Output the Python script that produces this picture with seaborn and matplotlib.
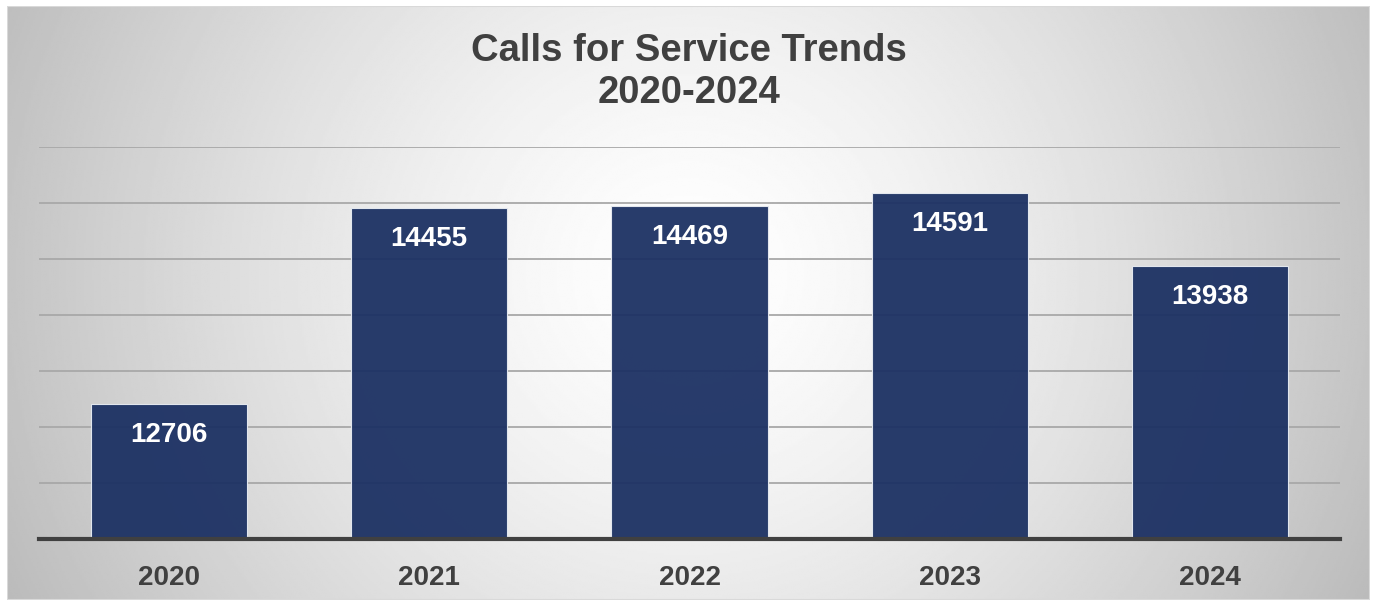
import numpy as np
import pandas as pd
import seaborn as sns
import matplotlib.pyplot as plt
from matplotlib.patches import Rectangle

# Dados
years = ['2020', '2021', '2022', '2023', '2024']
calls = [12706, 14455, 14469, 14591, 13938]

df = pd.DataFrame({'year': years, 'calls': calls})

sns.set_style("white")
plt.rcParams['font.family'] = ['Liberation Sans', 'DejaVu Sans']

fig = plt.figure(figsize=(13.77, 6.05), dpi=100)
fig.patch.set_facecolor('white')

# fundo com degradê radial
bg = fig.add_axes([7 / 1377, 1 - 600 / 605, 1363 / 1377, 594 / 605], zorder=0)
xx, yy = np.meshgrid(np.linspace(-1, 1, 700), np.linspace(-1, 1, 320))
r = np.sqrt((xx) ** 2 + (0.45 * (yy + 0.1)) ** 2)
shade = np.clip(1.0 - 0.23 * r ** 1.4, 0, 1)
bg.imshow(shade, cmap='gray', vmin=0, vmax=1, aspect='auto', extent=[0, 1, 0, 1])
bg.add_patch(Rectangle((0, 0), 1, 1, transform=bg.transAxes, fill=False,
                       edgecolor='#d9d9d9', linewidth=1.5))
bg.set_axis_off()

ax = fig.add_axes([39 / 1377, 1 - 539 / 605, 1301 / 1377, 392 / 605], zorder=1)
ax.patch.set_alpha(0)

sns.barplot(data=df, x='year', y='calls', color='#1c3163', width=0.6,
            saturation=1, alpha=0.95, edgecolor='#e8ecf2', linewidth=0.8,
            zorder=3, ax=ax)

ax.set_xlim(-0.5, 4.5)
ax.set_ylim(11500, 15000)
ax.set_yticks(np.arange(11500, 15001, 500))
ax.yaxis.grid(True, color='#a8a8a8', linewidth=1.3, zorder=0)
ax.set_axisbelow(True)
ax.set_yticklabels([])
ax.tick_params(axis='y', length=0)
ax.tick_params(axis='x', length=0, pad=19, labelsize=20, labelcolor='#404040')
for lbl in ax.get_xticklabels():
    lbl.set_fontweight('bold')
ax.set_xlabel('')
ax.set_ylabel('')
for s in ['top', 'right', 'left']:
    ax.spines[s].set_visible(False)
ax.spines['bottom'].set_color('#404040')
ax.spines['bottom'].set_linewidth(3)
ax.spines['bottom'].set_zorder(5)

for i, v in enumerate(calls):
    ax.annotate(str(v), (i, v), xytext=(0, -31), textcoords='offset pixels',
                ha='center', va='center', color='white', fontsize=20,
                fontweight='bold', zorder=6)

fig.text(689 / 1377, 1 - 72 / 605, 'Calls for Service Trends\n2020-2024',
         ha='center', va='center', fontsize=27.5, fontweight='bold',
         color='#404040', linespacing=1.2)

fig.savefig('out.png', dpi=100)
